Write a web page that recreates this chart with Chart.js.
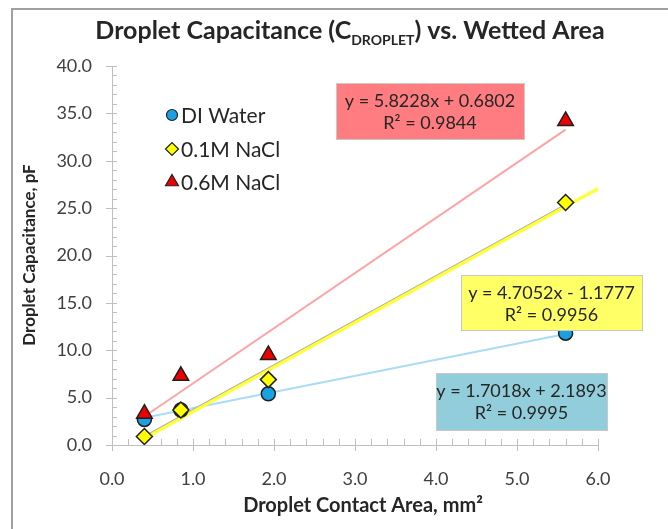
<!DOCTYPE html>
<html>
<head>
<meta charset="utf-8">
<title>Droplet Capacitance vs. Wetted Area</title>
<script src="https://cdn.jsdelivr.net/npm/chart.js@4.4.1/dist/chart.umd.min.js"></script>
<style>
  html, body { margin: 0; padding: 0; background: #fff; }
  #wrap { position: relative; width: 668px; height: 529px; }
</style>
</head>
<body>
<div id="wrap"><canvas id="cap-chart" width="668" height="529"></canvas></div>
<script>
// ====== Data ======
const contactArea = [0.4, 0.85, 1.93, 5.6];        // mm^2
const diWater = [2.7, 3.7, 5.4, 11.8];             // pF
const nacl01 = [0.9, 3.7, 6.9, 25.6];
const nacl06 = [3.3, 7.3, 9.5, 34.2];
const seriesNames = ['DI Water', '0.1M NaCl', '0.6M NaCl'];

// trendline coefficients as printed in the boxes
const trendSlope = [1.7018, 4.7052, 5.8228];
const trendIntercept = [2.1893, -1.1777, 0.6802];
const trendStart = [0.4, 0.4, 0.4];
const trendEnd = [5.6, 6.0, 5.6];
const trendR2 = ['0.9995', '0.9956', '0.9844'];

const xTicks = [0, 1, 2, 3, 4, 5, 6];
const yTicks = [0, 5, 10, 15, 20, 25, 30, 35, 40];

const FONT = 'Lato, "Open Sans", sans-serif';
const TEXT = '#262626';

function toPoints(xs, ys) {
  return xs.map((x, i) => ({ x: x, y: ys[i] }));
}

function trendPoints(i, endX) {
  const xs = [trendStart[i], endX];
  return xs.map(x => ({ x: x, y: trendSlope[i] * x + trendIntercept[i] }));
}

function fmtEq(i) {
  const b = trendIntercept[i];
  const sign = b < 0 ? '- ' : '+ ';
  return 'y = ' + trendSlope[i].toFixed(4) + 'x ' + sign + Math.abs(b).toFixed(4);
}

const markerStyles = [
  { pointStyle: 'circle', radius: 7, backgroundColor: '#1ba1e2' },
  { pointStyle: 'rectRot', radius: 8, backgroundColor: '#ffff00' },
  { pointStyle: 'triangle', radius: 9, backgroundColor: '#ee0000' }
];

// equation boxes (annotation positions)
const boxes = [
  { i: 0, x: 436, y: 373, w: 171, h: 57, fill: '#92cddc' },
  { i: 1, x: 461, y: 275, w: 181, h: 55, fill: '#ffff66' },
  { i: 2, x: 336, y: 83, w: 188, h: 56, fill: '#ff7c80' }
];

// ====== Custom drawing plugin ======
const decorPlugin = {
  id: 'decor',
  beforeDatasetDraw(chart, args) {
    const ds = chart.data.datasets[args.index];
    if (ds.shadowShift) {
      chart.ctx.save();
      chart.ctx.translate(0, ds.shadowShift);
    }
  },
  afterDatasetDraw(chart, args) {
    const ds = chart.data.datasets[args.index];
    if (ds.shadowShift) chart.ctx.restore();
  },
  beforeDatasetsDraw(chart) {
    // axis ticks: major crossing the axis, minor on the inside
    const ctx = chart.ctx;
    const xs = chart.scales.x, ys = chart.scales.y;
    const ax = ys.left + ys.width, ay = xs.top;
    ctx.save();
    ctx.strokeStyle = '#bfbfbf';
    ctx.lineWidth = 1;
    ctx.beginPath();
    for (let v = 0; v <= 40.001; v += 1) {
      const py = Math.round(ys.getPixelForValue(v)) + 0.5;
      const major = Math.abs(v % 5) < 0.001;
      ctx.moveTo(ax - (major ? 6 : 0), py);
      ctx.lineTo(ax + 5, py);
    }
    for (let v = 0; v <= 6.001; v += 0.2) {
      const px = Math.round(xs.getPixelForValue(v)) + 0.5;
      const major = Math.abs(v - Math.round(v)) < 0.001;
      ctx.moveTo(px, ay - 6);
      ctx.lineTo(px, ay + (major ? 6 : 0));
    }
    ctx.stroke();
    ctx.restore();
  },
  afterDraw(chart) {
    const ctx = chart.ctx;
    ctx.save();

    // outer frame
    ctx.strokeStyle = '#a0a0a0';
    ctx.lineWidth = 2;
    ctx.strokeRect(12, 9, 700, 600);

    // title with subscript
    ctx.fillStyle = TEXT;
    ctx.textBaseline = 'alphabetic';
    const parts = [
      { t: 'Droplet Capacitance (C', f: 'bold 25px ' + FONT, dy: 0 },
      { t: 'DROPLET', f: 'bold 14px ' + FONT, dy: 6 },
      { t: ') vs. Wetted Area', f: 'bold 25px ' + FONT, dy: 0 }
    ];
    let total = 0;
    parts.forEach(p => { ctx.font = p.f; p.w = ctx.measureText(p.t).width; total += p.w; });
    let tx = 350 - total / 2;
    ctx.textAlign = 'left';
    parts.forEach(p => { ctx.font = p.f; ctx.fillText(p.t, tx, 39 + p.dy); tx += p.w; });

    // axis titles
    ctx.textAlign = 'center';
    ctx.textBaseline = 'middle';
    ctx.font = 'bold 20px ' + FONT;
    ctx.fillText('Droplet Contact Area, mm\u00B2', 363, 506);
    ctx.font = 'bold 17px ' + FONT;
    ctx.save();
    ctx.translate(30, 255);
    ctx.rotate(-Math.PI / 2);
    ctx.fillText('Droplet Capacitance, pF', 0, 0);
    ctx.restore();

    // legend
    const lx = 172, ly = [115, 149, 182];
    ctx.font = '21px ' + FONT;
    ctx.textAlign = 'left';
    seriesNames.forEach((name, k) => {
      const m = markerStyles[k];
      ctx.fillStyle = m.backgroundColor;
      ctx.strokeStyle = '#222';
      ctx.lineWidth = 1.2;
      Chart.helpers.drawPoint(ctx, {
        pointStyle: m.pointStyle, radius: m.radius - 1.5, rotation: 0, borderWidth: 1.2
      }, lx, ly[k]);
      ctx.fillStyle = TEXT;
      ctx.fillText(name, lx + 9, ly[k] + 1);
    });

    // equation boxes
    boxes.forEach(b => {
      ctx.fillStyle = b.fill;
      ctx.fillRect(b.x, b.y, b.w, b.h);
      ctx.strokeStyle = '#c8c8c8';
      ctx.lineWidth = 1;
      ctx.strokeRect(b.x + 0.5, b.y + 0.5, b.w, b.h);
      ctx.fillStyle = TEXT;
      ctx.font = '18px ' + FONT;
      ctx.textAlign = 'center';
      ctx.fillText(fmtEq(b.i), b.x + b.w / 2, b.y + 18);
      ctx.fillText('R\u00B2 = ' + trendR2[b.i], b.x + b.w / 2, b.y + 40);
    });

    ctx.restore();
  }
};

// ====== Chart ======
const ctx = document.getElementById('cap-chart').getContext('2d');

const datasets = [
  // trendlines first so the markers sit on top
  {
    label: 'trend DI', data: trendPoints(0, trendEnd[0]), showLine: true,
    borderColor: '#a9dcf5', borderWidth: 2, pointRadius: 0, order: 10
  },
  {
    label: 'trend 0.6M', data: trendPoints(2, trendEnd[2]), showLine: true,
    borderColor: '#ffa3a3', borderWidth: 2, pointRadius: 0, order: 9
  },
  {
    label: 'trend 0.1M shadow', data: trendPoints(1, 5.6), showLine: true,
    borderColor: '#b0b0b0', borderWidth: 2.5, pointRadius: 0, order: 8, shadowShift: -1.5
  },
  {
    label: 'trend 0.1M', data: trendPoints(1, trendEnd[1]), showLine: true,
    borderColor: '#ffff33', borderWidth: 3, pointRadius: 0, order: 7
  },
  {
    label: seriesNames[0], data: toPoints(contactArea, diWater), order: 3,
    pointStyle: markerStyles[0].pointStyle, pointRadius: markerStyles[0].radius,
    backgroundColor: markerStyles[0].backgroundColor, borderColor: '#1f1f1f', borderWidth: 1.5
  },
  {
    label: seriesNames[1], data: toPoints(contactArea, nacl01), order: 2,
    pointStyle: markerStyles[1].pointStyle, pointRadius: markerStyles[1].radius,
    backgroundColor: markerStyles[1].backgroundColor, borderColor: '#1f1f1f', borderWidth: 1.5
  },
  {
    label: seriesNames[2], data: toPoints(contactArea, nacl06), order: 1,
    pointStyle: markerStyles[2].pointStyle, pointRadius: markerStyles[2].radius,
    backgroundColor: markerStyles[2].backgroundColor, borderColor: '#1f1f1f', borderWidth: 1.5
  }
];

const capChart = new Chart(ctx, {
  type: 'scatter',
  data: { datasets: datasets },
  options: {
    responsive: false,
    animation: false,
    events: [],
    layout: { padding: { top: 66, right: 70, left: 0, bottom: 0 } },
    scales: {
      x: {
        type: 'linear', min: 0, max: 6,
        afterBuildTicks: scale => { scale.ticks = xTicks.map(v => ({ value: v })); },
        afterFit: scale => { scale.height = 84; },
        grid: { display: false, drawTicks: false },
        border: { display: true, color: '#bfbfbf', width: 1 },
        ticks: {
          padding: 23, color: '#404040',
          font: { family: FONT, size: 18 },
          callback: v => v.toFixed(1)
        }
      },
      y: {
        type: 'linear', min: 0, max: 40,
        afterBuildTicks: scale => { scale.ticks = yTicks.map(v => ({ value: v })); },
        afterFit: scale => { scale.width = 112; },
        grid: { display: false, drawTicks: false },
        border: { display: true, color: '#bfbfbf', width: 1 },
        ticks: {
          padding: 20, color: '#404040',
          font: { family: FONT, size: 18 },
          callback: v => v.toFixed(1)
        }
      }
    },
    plugins: {
      legend: { display: false },
      title: { display: false },
      tooltip: { enabled: false }
    }
  },
  plugins: [decorPlugin]
});
</script>
</body>
</html>
